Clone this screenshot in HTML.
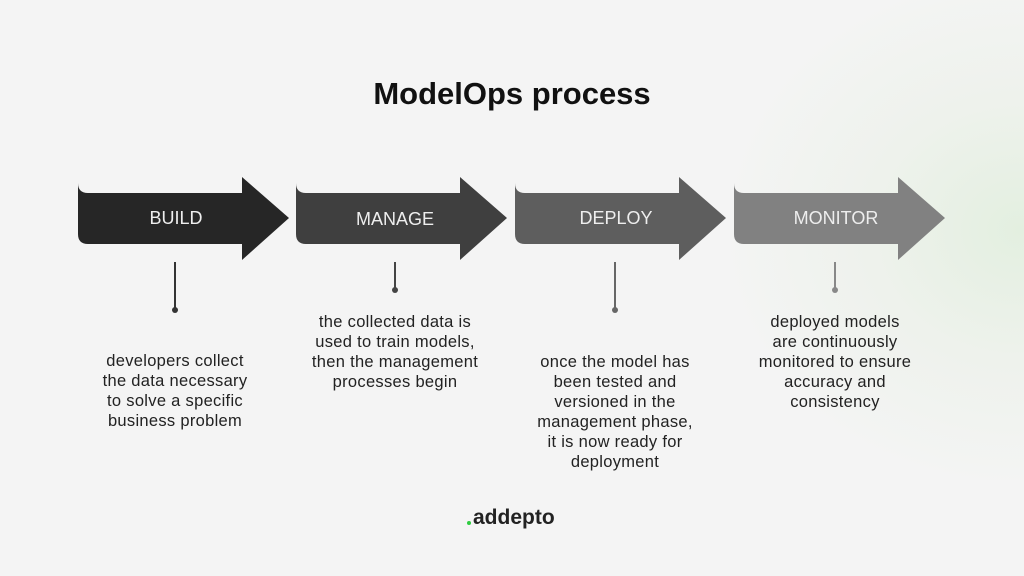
<!DOCTYPE html>
<html><head><style>
body{margin:0;width:1024px;height:576px;overflow:hidden;font-family:"Liberation Sans",sans-serif;
background:radial-gradient(ellipse 300px 260px at 1020px 230px,#e3efe0 0%,#eef2ec 50%,#f4f4f4 100%);background-color:#f4f4f4;position:relative}
.t{position:absolute;width:220px;text-align:center;font-size:16.5px;letter-spacing:0.3px;line-height:20px;color:#222}
</style></head><body>
<svg width="1024" height="576" style="position:absolute;left:0;top:0">
<defs>
<path id="a" d="M0 183 Q0 193 10 193 L164 193 L164 177 L211 218 L164 260 L164 244 L10 244 Q0 244 0 234 Z"/>
</defs>
<text x="512" y="104" text-anchor="middle" font-family="Liberation Sans" font-weight="bold" font-size="31" fill="#111">ModelOps process</text>
<use href="#a" x="78" fill="#262626"/>
<use href="#a" x="296" fill="#3f3f3f"/>
<use href="#a" x="515" fill="#5e5e5e"/>
<use href="#a" x="734" fill="#818181"/>
<g font-family="Liberation Sans" font-size="18" fill="#eee" text-anchor="middle">
<text x="176" y="224">BUILD</text><text x="395" y="225">MANAGE</text><text x="616" y="224">DEPLOY</text><text x="836" y="224">MONITOR</text></g>
<g stroke-width="2"><line x1="175" y1="262" x2="175" y2="309" stroke="#333"/><circle cx="175" cy="310" r="3" fill="#333"/>
<line x1="395" y1="262" x2="395" y2="289" stroke="#444"/><circle cx="395" cy="290" r="3" fill="#444"/>
<line x1="615" y1="262" x2="615" y2="309" stroke="#666"/><circle cx="615" cy="310" r="3" fill="#666"/>
<line x1="835" y1="262" x2="835" y2="289" stroke="#888"/><circle cx="835" cy="290" r="3" fill="#888"/></g>
<circle cx="469" cy="523" r="2" fill="#2ecc40"/>
<text x="473" y="524" font-family="Liberation Sans" font-weight="bold" font-size="21" fill="#222">addepto</text>
</svg>
<div class="t" style="left:65px;top:351px">developers collect<br>the data necessary<br>to solve a specific<br>business problem</div>
<div class="t" style="left:285px;top:312px">the collected data is<br>used to train models,<br>then the management<br>processes begin</div>
<div class="t" style="left:505px;top:352px">once the model has<br>been tested and<br>versioned in the<br>management phase,<br>it is now ready for<br>deployment</div>
<div class="t" style="left:725px;top:312px">deployed models<br>are continuously<br>monitored to ensure<br>accuracy and<br>consistency</div>
</body></html>
